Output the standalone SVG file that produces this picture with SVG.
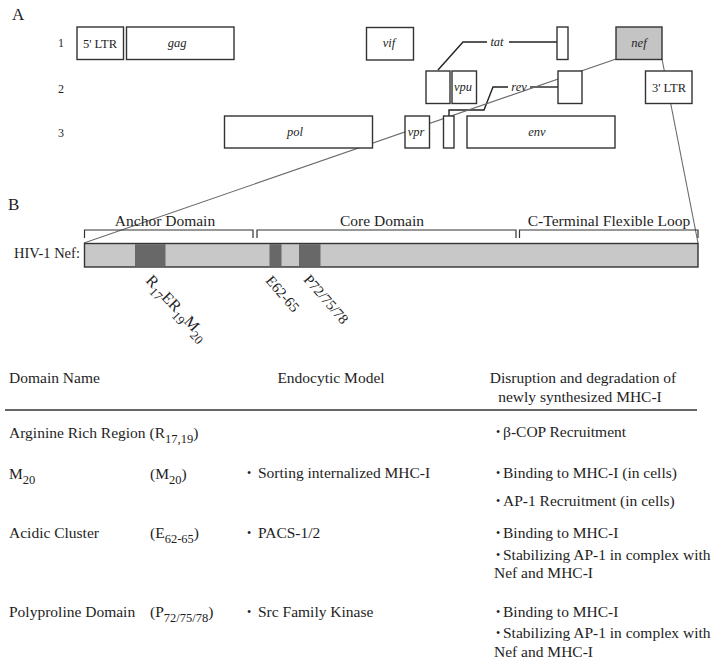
<svg xmlns="http://www.w3.org/2000/svg" width="714" height="666" viewBox="0 0 714 666">
<style>
text{font-family:"Liberation Serif","Times New Roman",serif;fill:#1e1e1e}
.box{fill:#fff;stroke:#333;stroke-width:1.4}
.nefbox{fill:#c4c4c4;stroke:#333;stroke-width:1.4}
.g{font-size:12.5px;font-style:italic;text-anchor:middle}
.ltr{font-size:12.5px;text-anchor:middle}
.num{font-size:12px}
.lbl{font-size:17px}
.t{font-size:15.5px}
.b{font-size:12px}
.dm{font-size:15.5px;text-anchor:middle}
.c{text-anchor:middle}
.ln{fill:none;stroke:#222;stroke-width:1.4}
.zoom{fill:none;stroke:#6a6a6a;stroke-width:1.1}
.br{fill:none;stroke:#333;stroke-width:1.2}
.sub{font-size:12.5px}
</style>
<rect width="714" height="666" fill="#fff"/>

<g id="panelA-labels">
<text class="lbl" x="12" y="20">A</text>
<text class="num" x="58" y="47">1</text>
<text class="num" x="58" y="93">2</text>
<text class="num" x="58" y="137">3</text>
</g>

<g id="connectors">
<path class="ln" d="M438,70 L463,42 H487"/>
<path class="ln" d="M509,42 H557"/>
<path class="ln" d="M449,116 V110 H484 L493,87 H508"/>
<path class="ln" d="M530,87 H558"/>
<line class="zoom" x1="616" y1="59" x2="84" y2="243"/>
<line class="zoom" x1="662" y1="59" x2="698" y2="243"/>
</g>

<g id="ltr5"><rect class="box" x="77" y="27" width="46.5" height="32.5"/><text class="ltr" x="100" y="48">5' LTR</text></g>
<g id="gag"><rect class="box" x="126.5" y="27" width="107.5" height="32.5"/><text class="g" x="177" y="47">gag</text></g>
<g id="vif"><rect class="box" x="366.5" y="27.5" width="47" height="32.5"/><text class="g" x="389" y="47">vif</text></g>
<g id="tat"><rect class="box" x="557" y="27" width="11" height="32.5"/><text class="g" x="497" y="46">tat</text></g>
<g id="nef"><rect class="nefbox" x="616" y="27" width="46" height="32.5"/><text class="g" x="639" y="47">nef</text></g>
<g id="tat1"><rect class="box" x="426" y="71" width="24" height="32.5"/></g>
<g id="vpu"><rect class="box" x="452" y="71" width="24.5" height="32.5"/><text class="g" x="463" y="91">vpu</text></g>
<g id="rev"><rect class="box" x="558" y="71" width="24" height="32.5"/><text class="g" x="519" y="91">rev</text></g>
<g id="ltr3"><rect class="box" x="645.5" y="71" width="46.5" height="32.5"/><text class="ltr" x="669" y="92">3' LTR</text></g>
<g id="pol"><rect class="box" x="224.5" y="116" width="148" height="32"/><text class="g" x="295" y="136">pol</text></g>
<g id="vpr"><rect class="box" x="405" y="116" width="24.5" height="32"/><text class="g" x="416" y="136">vpr</text></g>
<g id="rev1"><rect class="box" x="443.5" y="116" width="10.5" height="32"/></g>
<g id="env"><rect class="box" x="467" y="116" width="148" height="32"/><text class="g" x="537" y="136">env</text></g>

<g id="panelB">
<text class="lbl" x="8" y="210">B</text>
<text class="dm" x="165" y="226">Anchor Domain</text>
<text class="dm" x="382" y="226">Core Domain</text>
<text class="dm" x="609" y="226">C-Terminal Flexible Loop</text>
<path class="br" d="M84.5,238 V230 H253 V238"/>
<path class="br" d="M257,238 V230 H516 V238"/>
<path class="br" d="M519.5,238 V230 H698 V238"/>
</g>

<g id="nef-bar">
<text x="14" y="258" style="font-size:14.5px">HIV-1 Nef:</text>
<rect x="84.5" y="243.5" width="613.5" height="23.5" fill="#c8c8c8" stroke="#333" stroke-width="1.4"/>
<rect x="135" y="244.2" width="30.5" height="22.1" fill="#686868"/>
<rect x="269.5" y="244.2" width="12" height="22.1" fill="#686868"/>
<rect x="299" y="244.2" width="21.5" height="22.1" fill="#686868"/>
<text style="font-size:16px" transform="translate(145,281) rotate(47)">R<tspan class="sub" dy="5">17</tspan><tspan dy="-5">ER</tspan><tspan class="sub" dy="5">19</tspan><tspan dy="-5">M</tspan><tspan class="sub" dy="5">20</tspan></text>
<text style="font-size:14.5px" transform="translate(265,281) rotate(49)">E62-65</text>
<text style="font-size:14.5px" transform="translate(303,280) rotate(49)">P72/75/78</text>
</g>

<g id="table">
<text class="t" x="9" y="383">Domain Name</text>
<text class="t c" x="331" y="383">Endocytic Model</text>
<text class="t c" x="583" y="383">Disruption and degradation of</text>
<text class="t c" x="580" y="402">newly synthesized MHC-I</text>
<line x1="5" y1="410" x2="697" y2="410" stroke="#333" stroke-width="1.6"/>

<text class="t" x="9" y="438">Arginine Rich Region (R<tspan class="sub" dy="5">17,19</tspan><tspan dy="-5">)</tspan></text>
<text class="b" x="496" y="436">•</text><text class="t" x="503" y="437">β-COP Recruitment</text>

<text class="t" x="9" y="479">M<tspan class="sub" dy="5">20</tspan></text>
<text class="t" x="150" y="479">(M<tspan class="sub" dy="5">20</tspan><tspan dy="-5">)</tspan></text>
<text class="b" x="247" y="477">•</text><text class="t" x="258" y="478">Sorting internalized MHC-I</text>
<text class="b" x="496" y="477">•</text><text class="t" x="503" y="478">Binding to MHC-I (in cells)</text>
<text class="b" x="496" y="505">•</text><text class="t" x="503" y="506">AP-1 Recruitment (in cells)</text>

<text class="t" x="9" y="538">Acidic Cluster</text>
<text class="t" x="150" y="538">(E<tspan class="sub" dy="5">62-65</tspan><tspan dy="-5">)</tspan></text>
<text class="b" x="247" y="537">•</text><text class="t" x="258" y="538">PACS-1/2</text>
<text class="b" x="496" y="537">•</text><text class="t" x="503" y="538">Binding to MHC-I</text>
<text class="b" x="496" y="559">•</text><text class="t" x="503" y="560">Stabilizing AP-1 in complex with</text>
<text class="t" x="494" y="578">Nef and MHC-I</text>

<text class="t" x="9" y="617">Polyproline Domain</text>
<text class="t" x="150" y="617">(P<tspan class="sub" dy="5">72/75/78</tspan><tspan dy="-5">)</tspan></text>
<text class="b" x="247" y="616">•</text><text class="t" x="258" y="617">Src Family Kinase</text>
<text class="b" x="496" y="616">•</text><text class="t" x="503" y="617">Binding to MHC-I</text>
<text class="b" x="496" y="637">•</text><text class="t" x="503" y="638">Stabilizing AP-1 in complex with</text>
<text class="t" x="494" y="657">Nef and MHC-I</text>
</g>
</svg>
